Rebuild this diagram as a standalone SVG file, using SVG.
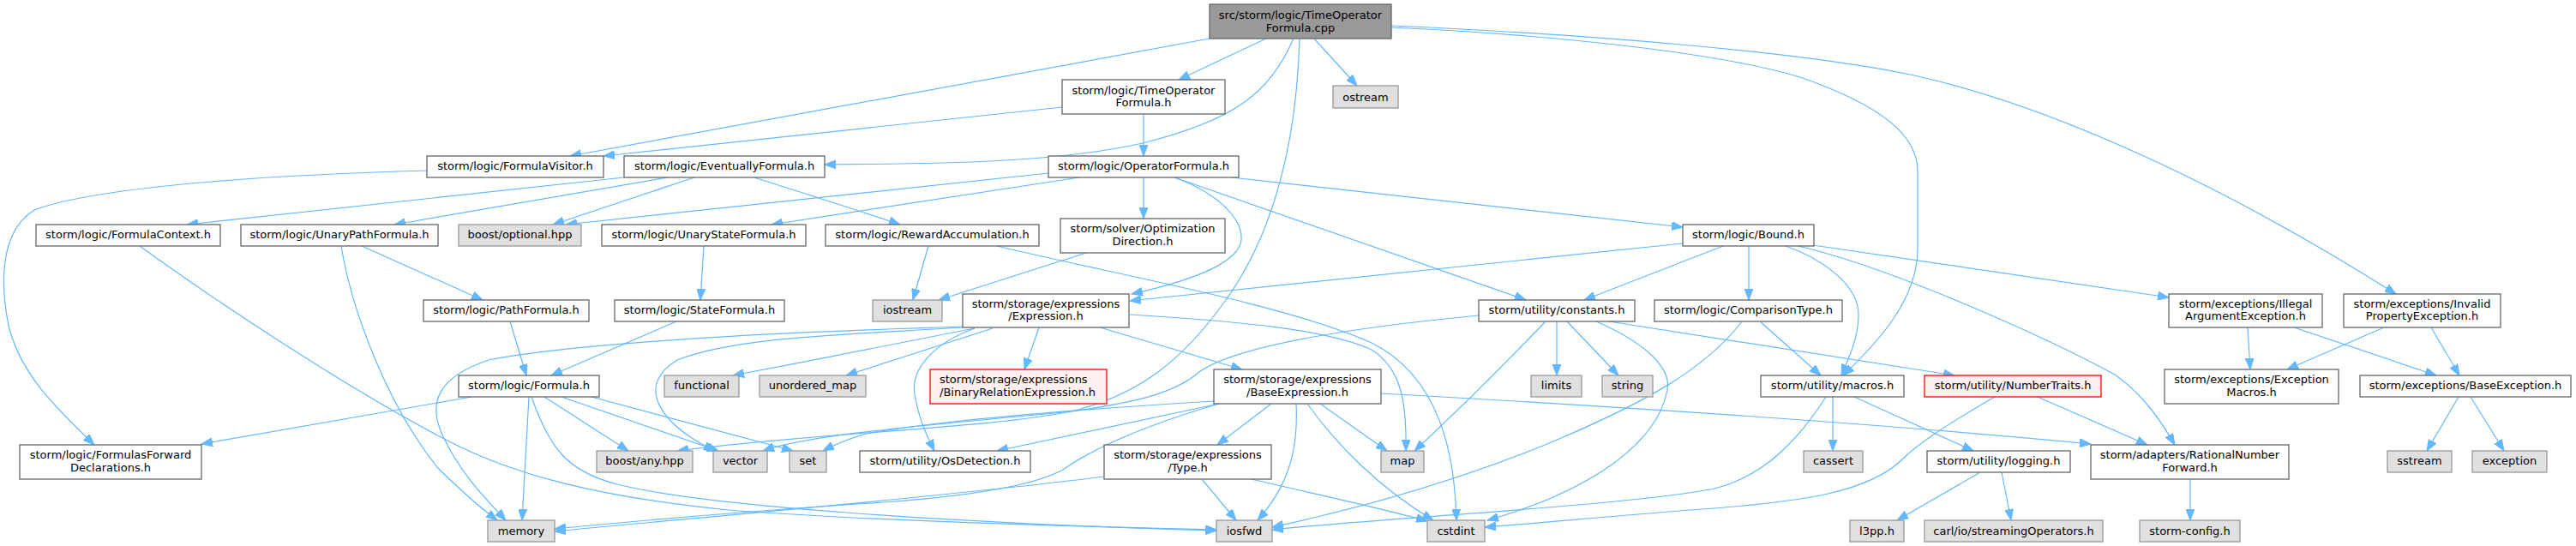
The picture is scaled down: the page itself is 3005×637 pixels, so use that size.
<svg xmlns="http://www.w3.org/2000/svg" width="3005" height="637" viewBox="0 0 3005 637">
<style>
rect{stroke-width:1.3}
.n rect{fill:#ffffff;stroke:#666666}
.g rect{fill:#e0e0e0;stroke:#999999}
.r rect{fill:#999999;stroke:#666666}
.e rect{fill:#fff0f0;stroke:#ff0000}
text{font-family:"DejaVu Sans","Liberation Sans",sans-serif;font-size:13px;fill:#000000;text-anchor:middle}
text.l{text-anchor:start}
#edges path{fill:none;stroke:#63b8ff;stroke-width:1.2;marker-end:url(#arr)}
</style>
<defs>
<marker id="arr" markerUnits="userSpaceOnUse" markerWidth="14" markerHeight="10" refX="13" refY="5" orient="auto">
<path d="M0,0 L13,5 L0,10 z" fill="#63b8ff" stroke="#63b8ff" stroke-width="1"/>
</marker>
</defs>
<rect width="3005" height="637" fill="#ffffff"/>
<g id="edges">
<path d="M1477,45 L1375,93"/>
<path d="M1533,45 L1583,100"/>
<path d="M1411,45 L665,182"/>
<path d="M1239,125 L704,182"/>
<path d="M1509,45 C1480,110 1440,140 1333,167 C1230,190 1100,191 962,192"/>
<path d="M1334,133 L1334,182"/>
<path d="M1516,45 C1512,180 1480,280 1430,350 C1380,420 1330,460 1250,480 C1150,500 950,505 790,526"/>
<path d="M1623,32 C1800,40 2000,60 2100,90 C2200,125 2237,160 2237,200 L2237,290 C2237,350 2190,400 2150,438"/>
<path d="M1623,30 C1850,40 2100,60 2233,88 C2400,125 2600,220 2795,343"/>
<path d="M498,199 C350,203 120,215 40,245 C0,270 0,330 10,380 C25,440 70,480 110,519"/>
<path d="M728,207 L218,262"/>
<path d="M779,207 L460,262"/>
<path d="M810,207 L645,262"/>
<path d="M880,207 C920,220 1000,245 1050,262"/>
<path d="M1223,202 L660,262"/>
<path d="M1259,207 L900,262"/>
<path d="M1334,207 L1334,255"/>
<path d="M1370,207 C1420,225 1450,255 1448,280 C1445,305 1400,325 1320,343"/>
<path d="M1370,207 L1780,350"/>
<path d="M1437,207 L1963,265"/>
<path d="M1963,284 L1318,351"/>
<path d="M2010,287 L1848,350"/>
<path d="M2040,287 L2040,350"/>
<path d="M2083,287 C2120,300 2170,330 2168,370 C2167,395 2158,415 2148,438"/>
<path d="M2097,287 C2200,310 2380,390 2467,437 C2500,460 2520,490 2537,519"/>
<path d="M2115,286 L2530,347"/>
<path d="M2622,382 L2625,431"/>
<path d="M2676,382 L2842,438"/>
<path d="M2781,382 L2668,431"/>
<path d="M2836,382 L2869,438"/>
<path d="M2868,463 L2831,526"/>
<path d="M2882,463 L2921,526"/>
<path d="M2555,559 L2555,607"/>
<path d="M821,287 L817,350"/>
<path d="M789,375 L643,438"/>
<path d="M422,287 L563,350"/>
<path d="M398,287 C410,360 450,470 510,545 C540,575 560,592 580,607"/>
<path d="M595,375 L614,438"/>
<path d="M163,287 C250,350 400,450 520,513 C600,555 700,580 850,595 C1050,610 1300,615 1419,618"/>
<path d="M550,463 L235,518"/>
<path d="M617,463 L609,607"/>
<path d="M620,463 C640,520 660,550 720,565 C820,590 1100,610 1419,619"/>
<path d="M635,463 L733,526"/>
<path d="M655,463 L838,526"/>
<path d="M690,463 L925,526"/>
<path d="M1123,381 C1000,385 700,395 570,420 C510,440 500,470 515,505 C535,550 565,580 590,607"/>
<path d="M1123,382 C1000,390 860,392 790,420 C740,450 770,495 834,526"/>
<path d="M1137,383 C1050,400 950,420 855,438"/>
<path d="M1158,383 L987,438"/>
<path d="M1137,383 C1090,400 1062,430 1067,460 C1072,490 1082,510 1090,526"/>
<path d="M1212,382 L1195,431"/>
<path d="M1283,382 L1449,431"/>
<path d="M1318,367 C1450,375 1550,385 1600,408 C1635,430 1641,470 1640,526"/>
<path d="M1483,471 L1420,519"/>
<path d="M1512,471 C1515,530 1500,570 1467,607"/>
<path d="M1540,471 L1618,526"/>
<path d="M1525,471 C1560,520 1610,570 1672,607"/>
<path d="M1611,459 C1900,475 2200,495 2439,518"/>
<path d="M1422,471 L1163,526"/>
<path d="M1422,471 C1340,495 1280,520 1240,548 C1200,570 1100,582 1000,588 C850,598 720,610 647,617"/>
<path d="M1416,468 C1250,478 1100,490 1010,506 C990,512 975,518 960,526"/>
<path d="M1725,368 C1600,380 1450,400 1400,433 C1370,460 1320,470 1250,480 C1100,495 950,505 890,526"/>
<path d="M1288,556 C1100,580 800,605 647,620"/>
<path d="M1402,559 L1442,607"/>
<path d="M1460,559 C1550,580 1620,595 1665,608"/>
<path d="M1083,287 L1065,350"/>
<path d="M1163,287 C1300,320 1500,355 1600,400 C1680,440 1697,530 1699,607"/>
<path d="M1267,295 L1095,350"/>
<path d="M1816,375 L1816,438"/>
<path d="M1828,375 L1888,438"/>
<path d="M1803,375 C1750,430 1700,480 1650,526"/>
<path d="M1862,375 C1920,400 1950,430 1945,455 C1930,530 1830,580 1735,607"/>
<path d="M1877,375 L2280,438"/>
<path d="M2053,375 L2124,438"/>
<path d="M2032,375 C1990,430 1920,470 1800,520 C1700,560 1600,590 1484,615"/>
<path d="M2130,463 C2100,510 2060,555 2000,570 C1900,590 1600,605 1484,618"/>
<path d="M2138,463 L2138,526"/>
<path d="M2163,463 L2302,526"/>
<path d="M2310,551 L2213,607"/>
<path d="M2335,551 L2346,607"/>
<path d="M2327,463 C2280,490 2240,515 2220,535 C2180,575 2100,585 2000,593 C1900,600 1800,610 1732,615"/>
<path d="M2377,463 L2505,519"/>
</g>
<g id="root" class="r"><rect x="1411" y="5" width="212" height="40"/><text x="1517" y="21.5">src/storm/logic/TimeOperator</text><text x="1517" y="36.5">Formula.cpp</text></g>
<g id="n_TimeOperatorFormula_h" class="n"><rect x="1239" y="93" width="190" height="40"/><text x="1334" y="109.5">storm/logic/TimeOperator</text><text x="1334" y="124">Formula.h</text></g>
<g id="n_ostream" class="g"><rect x="1555" y="100" width="76" height="26"/><text x="1593" y="117.5">ostream</text></g>
<g id="n_FormulaVisitor_h" class="n"><rect x="498" y="182" width="206" height="25"/><text x="601" y="197.5">storm/logic/FormulaVisitor.h</text></g>
<g id="n_EventuallyFormula_h" class="n"><rect x="728" y="182" width="234" height="25"/><text x="845" y="197.5">storm/logic/EventuallyFormula.h</text></g>
<g id="n_OperatorFormula_h" class="n"><rect x="1223" y="182" width="222" height="25"/><text x="1334" y="197.5">storm/logic/OperatorFormula.h</text></g>
<g id="n_FormulaContext_h" class="n"><rect x="42" y="262" width="215" height="25"/><text x="149.5" y="278">storm/logic/FormulaContext.h</text></g>
<g id="n_UnaryPathFormula_h" class="n"><rect x="281" y="262" width="230" height="25"/><text x="396" y="278">storm/logic/UnaryPathFormula.h</text></g>
<g id="n_boost_optional" class="g"><rect x="535" y="262" width="143" height="25"/><text x="606.5" y="278">boost/optional.hpp</text></g>
<g id="n_UnaryStateFormula_h" class="n"><rect x="702" y="262" width="238" height="25"/><text x="821" y="278">storm/logic/UnaryStateFormula.h</text></g>
<g id="n_RewardAccumulation_h" class="n"><rect x="963" y="262" width="249" height="25"/><text x="1087.5" y="278">storm/logic/RewardAccumulation.h</text></g>
<g id="n_OptimizationDirection_h" class="n"><rect x="1237" y="255" width="192" height="40"/><text x="1333" y="271">storm/solver/Optimization</text><text x="1333" y="285.5">Direction.h</text></g>
<g id="n_Bound_h" class="n"><rect x="1963" y="262" width="153" height="25"/><text x="2039.5" y="278">storm/logic/Bound.h</text></g>
<g id="n_PathFormula_h" class="n"><rect x="494" y="350" width="193" height="25"/><text x="590.5" y="366">storm/logic/PathFormula.h</text></g>
<g id="n_StateFormula_h" class="n"><rect x="717" y="350" width="198" height="25"/><text x="816" y="366">storm/logic/StateFormula.h</text></g>
<g id="n_iostream" class="g"><rect x="1018" y="350" width="81" height="25"/><text x="1058.5" y="366">iostream</text></g>
<g id="n_Expression_h" class="n"><rect x="1123" y="343" width="194" height="39"/><text x="1220" y="358.5">storm/storage/expressions</text><text x="1220" y="373">/Expression.h</text></g>
<g id="n_constants_h" class="n"><rect x="1725" y="350" width="182" height="25"/><text x="1816" y="366">storm/utility/constants.h</text></g>
<g id="n_ComparisonType_h" class="n"><rect x="1930" y="350" width="219" height="25"/><text x="2039.5" y="366">storm/logic/ComparisonType.h</text></g>
<g id="n_IllegalArgumentException_h" class="n"><rect x="2530" y="343" width="179" height="39"/><text x="2619.5" y="358.5">storm/exceptions/Illegal</text><text x="2619.5" y="373">ArgumentException.h</text></g>
<g id="n_InvalidPropertyException_h" class="n"><rect x="2734" y="343" width="183" height="39"/><text x="2825.5" y="358.5">storm/exceptions/Invalid</text><text x="2825.5" y="373">PropertyException.h</text></g>
<g id="n_Formula_h" class="n"><rect x="535" y="438" width="164" height="25"/><text x="617" y="454">storm/logic/Formula.h</text></g>
<g id="n_functional" class="g"><rect x="775" y="438" width="87" height="25"/><text x="818.5" y="454">functional</text></g>
<g id="n_unordered_map" class="g"><rect x="886" y="438" width="124" height="25"/><text x="948" y="454">unordered_map</text></g>
<g id="n_BinaryRelationExpression_h" class="e"><rect x="1085" y="431" width="206" height="40"/><text class="l" x="1096" y="447">storm/storage/expressions</text><text class="l" x="1096" y="461.5">/BinaryRelationExpression.h</text></g>
<g id="n_BaseExpression_h" class="n"><rect x="1416" y="431" width="195" height="40"/><text x="1513.5" y="447">storm/storage/expressions</text><text x="1513.5" y="461.5">/BaseExpression.h</text></g>
<g id="n_limits" class="g"><rect x="1786" y="438" width="59" height="25"/><text x="1815.5" y="454">limits</text></g>
<g id="n_string" class="g"><rect x="1869" y="438" width="59" height="25"/><text x="1898.5" y="454">string</text></g>
<g id="n_macros_h" class="n"><rect x="2054" y="438" width="167" height="25"/><text x="2137.5" y="454">storm/utility/macros.h</text></g>
<g id="n_NumberTraits_h" class="e"><rect x="2245" y="438" width="206" height="25"/><text x="2348" y="454">storm/utility/NumberTraits.h</text></g>
<g id="n_ExceptionMacros_h" class="n"><rect x="2525" y="431" width="203" height="40"/><text x="2626.5" y="447">storm/exceptions/Exception</text><text x="2626.5" y="461.5">Macros.h</text></g>
<g id="n_BaseException_h" class="n"><rect x="2753" y="438" width="246" height="25"/><text x="2876" y="454">storm/exceptions/BaseException.h</text></g>
<g id="n_FormulasForwardDeclarations_h" class="n"><rect x="23" y="519" width="212" height="40"/><text x="129" y="535">storm/logic/FormulasForward</text><text x="129" y="549.5">Declarations.h</text></g>
<g id="n_boost_any" class="g"><rect x="696" y="526" width="112" height="25"/><text x="752" y="542">boost/any.hpp</text></g>
<g id="n_vector" class="g"><rect x="832" y="526" width="63" height="25"/><text x="863.5" y="542">vector</text></g>
<g id="n_set" class="g"><rect x="921" y="526" width="43" height="25"/><text x="942.5" y="542">set</text></g>
<g id="n_OsDetection_h" class="n"><rect x="1003" y="526" width="199" height="25"/><text x="1102.5" y="542">storm/utility/OsDetection.h</text></g>
<g id="n_Type_h" class="n"><rect x="1288" y="519" width="195" height="40"/><text x="1385.5" y="535">storm/storage/expressions</text><text x="1385.5" y="549.5">/Type.h</text></g>
<g id="n_map" class="g"><rect x="1611" y="526" width="50" height="25"/><text x="1636" y="542">map</text></g>
<g id="n_cassert" class="g"><rect x="2104" y="526" width="69" height="25"/><text x="2138.5" y="542">cassert</text></g>
<g id="n_logging_h" class="n"><rect x="2248" y="526" width="167" height="25"/><text x="2331.5" y="542">storm/utility/logging.h</text></g>
<g id="n_RationalNumberForward_h" class="n"><rect x="2439" y="519" width="231" height="40"/><text x="2554.5" y="535">storm/adapters/RationalNumber</text><text x="2554.5" y="549.5">Forward.h</text></g>
<g id="n_sstream" class="g"><rect x="2785" y="526" width="75" height="25"/><text x="2822.5" y="542">sstream</text></g>
<g id="n_exception" class="g"><rect x="2884" y="526" width="87" height="25"/><text x="2927.5" y="542">exception</text></g>
<g id="n_memory" class="g"><rect x="569" y="607" width="78" height="25"/><text x="608" y="623.5">memory</text></g>
<g id="n_iosfwd" class="g"><rect x="1419" y="607" width="65" height="25"/><text x="1451.5" y="623.5">iosfwd</text></g>
<g id="n_cstdint" class="g"><rect x="1665" y="607" width="67" height="25"/><text x="1698.5" y="623.5">cstdint</text></g>
<g id="n_l3pp_h" class="g"><rect x="2158" y="607" width="63" height="25"/><text x="2189.5" y="623.5">l3pp.h</text></g>
<g id="n_carl_streamingOperators_h" class="g"><rect x="2245" y="607" width="208" height="25"/><text x="2349" y="623.5">carl/io/streamingOperators.h</text></g>
<g id="n_storm_config_h" class="g"><rect x="2496" y="607" width="117" height="25"/><text x="2554.5" y="623.5">storm-config.h</text></g>
</svg>
